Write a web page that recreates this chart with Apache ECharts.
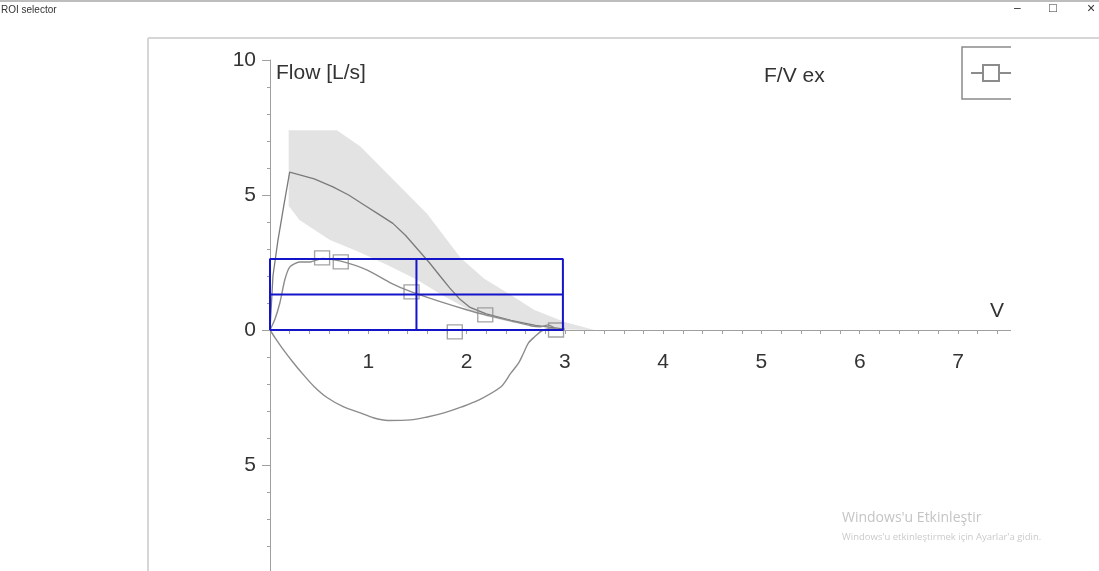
<!DOCTYPE html>
<html>
<head>
<meta charset="utf-8">
<script src="https://cdn.jsdelivr.net/npm/echarts@6/dist/echarts.min.js"></script>
<style>
html,body{margin:0;padding:0;background:#fff;}
#c{width:1099px;height:571px;}
</style>
</head>
<body>
<div id="c"></div>
<script>
// ---- data (volume [L], flow [L/s]) ----
var bandUpper = [[0.19,7.4],[0.68,7.4],[0.92,6.8],[1.26,5.55],[1.6,4.3],[1.94,2.67],[2.18,1.9],[2.45,1.3],[2.69,0.74],[3.0,0.3],[3.3,0.0]];
var bandLower = [[0.19,4.6],[0.3,4.07],[0.61,3.33],[0.9,2.9],[1.2,2.4],[1.5,1.85],[1.75,1.3],[2.0,0.8],[2.2,0.5],[2.5,0.25],[3.0,0.02]];
var meanCurve = [[0,0],[0.03,2.0],[0.08,3.3],[0.14,4.6],[0.2,5.85],[0.45,5.6],[0.64,5.3],[0.8,5.0],[0.95,4.65],[1.1,4.3],[1.25,3.95],[1.38,3.5],[1.5,3.0],[1.62,2.5],[1.73,2.0],[1.83,1.55],[1.93,1.15],[2.03,0.85],[2.2,0.6],[2.45,0.36],[2.7,0.17],[3.0,0.03]];
var expiration = [[0,0],[0.05,0.4],[0.1,1.0],[0.15,1.85],[0.2,2.33],[0.3,2.52],[0.41,2.52],[0.53,2.65],[0.72,2.55],[0.99,2.22],[1.23,1.74],[1.44,1.41],[1.74,1.04],[2.0,0.75],[2.19,0.56],[2.42,0.37],[2.66,0.15],[2.75,0.12],[2.83,0.19],[2.91,0.05]];
var inspiration = [[2.91,0.05],[2.78,0.0],[2.69,-0.26],[2.63,-0.48],[2.58,-0.85],[2.53,-1.22],[2.45,-1.6],[2.35,-2.1],[2.12,-2.6],[1.95,-2.85],[1.77,-3.07],[1.6,-3.22],[1.43,-3.33],[1.2,-3.35],[1.05,-3.25],[0.92,-3.07],[0.75,-2.85],[0.58,-2.5],[0.45,-2.1],[0.35,-1.7],[0.24,-1.22],[0.12,-0.65],[0.05,-0.28],[0,0]];
var markerPoints = [[0.53,2.67],[0.72,2.52],[1.44,1.41],[2.19,0.56],[1.88,-0.07],[2.91,0.0]];
var roiVolume = [0, 1.49, 2.98];
var roiFlow = [0, 1.315, 2.63];
var xTickLabels = ['1','2','3','4','5','6','7'];

var bandPolygon = bandUpper.concat(bandLower.slice().reverse());

var FONT = '"Liberation Sans", Arial, sans-serif';
var chart = echarts.init(document.getElementById('c'), null, {renderer:'canvas'});

var roiColor = '#1414c8';
function roiLine(name, pts){
  return {type:'line', name:name, data:pts, showSymbol:false, symbol:'none', silent:true,
    lineStyle:{color:roiColor, width:2}, z:10, animation:false};
}
var AX = '#a0a0a0';
var LBL = 21;

var option = {
  animation:false,
  backgroundColor:'#fff',
  textStyle:{fontFamily:FONT},
  title:{text:'F/V ex', left:759, top:61, textStyle:{fontSize:LBL, fontWeight:'normal', color:'#333', fontFamily:FONT}},
  legend:{
    left:962, top:47, orient:'horizontal',
    data:[{name:'measured'}],
    formatter:function(){return '';},
    itemWidth:40, itemHeight:20, itemGap:0,
    padding:[16,40,17,8],
    borderColor:'#8a8a8a', borderWidth:1.5,
    selectedMode:false,
    textStyle:{fontSize:1}
  },
  grid:{left:270, right:82, top:60, bottom:-29, containLabel:false, outerBoundsMode:'none'},
  xAxis:[{
    type:'value', min:0, max:7.6, interval:0.2,
    name:'V', nameLocation:'end', nameGap:-20,
    nameTextStyle:{fontSize:LBL, color:'#333', align:'center', verticalAlign:'bottom', padding:[0,0,8,0], fontFamily:FONT},
    axisLine:{onZero:true, lineStyle:{color:AX, width:1}},
    axisTick:{show:true, length:4, lineStyle:{color:AX}},
    axisLabel:{show:false},
    splitLine:{show:false}
  },{
    type:'value', min:0, max:7.6, interval:0.2, position:'bottom', offset:-270,
    axisLine:{show:false, onZero:false}, axisTick:{show:false},
    axisLabel:{interval:0, margin:22, fontSize:LBL, color:'#333', fontFamily:FONT,
      formatter:function(v){var r=Math.round(v); if(Math.abs(v-r)<1e-6 && r>=1 && r<=7) return xTickLabels[r-1]; return '';}},
    splitLine:{show:false}
  }],
  yAxis:[{
    type:'value', min:-10, max:10, interval:1,
    name:'Flow [L/s]', nameLocation:'end', nameGap:-13,
    nameTextStyle:{fontSize:LBL, color:'#333', align:'left', verticalAlign:'middle', padding:[0,0,0,6], fontFamily:FONT},
    axisLine:{show:true, onZero:false, lineStyle:{color:AX, width:1}},
    axisTick:{show:true, length:3, lineStyle:{color:AX}},
    axisLabel:{interval:0, margin:14, fontSize:LBL, color:'#333', fontFamily:FONT,
      formatter:function(v){return (Math.round(v)%5===0) ? String(Math.abs(Math.round(v))) : '';}},
    splitLine:{show:false}
  },{
    type:'value', min:-10, max:10, interval:5, position:'left',
    axisLine:{show:false, onZero:false}, axisTick:{show:true, length:8, lineStyle:{color:AX}},
    axisLabel:{show:false}, splitLine:{show:false}
  }],
  graphic:[
    {type:'rect', shape:{x:0,y:0,width:1099,height:2}, style:{fill:'#bdbdbd'}, z:100},
    {type:'text', left:1, top:5, style:{text:'ROI selector', fontSize:10, fill:'#333', fontFamily:FONT}, z:100},
    {type:'text', left:1014, top:3, style:{text:'\u2013', fontSize:12, fill:'#333', fontFamily:FONT}, z:100},
    {type:'text', left:1049, top:2, style:{text:'\u25A1', fontSize:13, fill:'#333', fontFamily:FONT}, z:100},
    {type:'text', left:1087, top:2, style:{text:'\u00D7', fontSize:14, fill:'#333', fontFamily:FONT}, z:100},
    {type:'rect', shape:{x:1011,y:40,width:88,height:531}, style:{fill:'#ffffff'}, z:90},
    {type:'line', shape:{x1:148,y1:38,x2:1099,y2:38}, style:{stroke:'#d6d6d6', lineWidth:2}, z:100},
    {type:'line', shape:{x1:148,y1:38,x2:148,y2:571}, style:{stroke:'#d6d6d6', lineWidth:2}, z:100},
    {type:'text', left:842, top:511, style:{text:"Windows'u Etkinleştir", fontSize:14, fill:'#c4c4c4', fontFamily:'"Open Sans", sans-serif'}, z:100},
    {type:'text', left:842, top:532, style:{text:"Windows'u etkinleştirmek için Ayarlar'a gidin.", fontSize:9.5, fill:'#cacaca', fontFamily:'"Open Sans", sans-serif'}, z:100}
  ],
  series:[
    {
      type:'custom', name:'band', silent:true, z:1,
      data:bandPolygon,
      encode:{x:0, y:1},
      renderItem:function(params, api){
        if(params.dataIndex !== 0) return null;
        var pts = bandPolygon.map(function(p){return api.coord(p);});
        return {type:'polygon', shape:{points:pts}, style:{fill:'#e3e3e3', stroke:null}};
      }
    },
    {type:'line', name:'mean', data:meanCurve, showSymbol:false, symbol:'none', silent:true, z:3,
      lineStyle:{color:'#7a7a7a', width:1.3}},
    {type:'line', name:'measured', data:expiration, showSymbol:false, symbol:'emptyRect', symbolSize:12, smooth:0.2, silent:true, z:4,
      itemStyle:{color:'#8c8c8c', borderColor:'#8c8c8c'}, lineStyle:{color:'#8c8c8c', width:1.4}},
    {type:'line', name:'inspiration', data:inspiration, showSymbol:false, symbol:'none', smooth:0.3, silent:true, z:4,
      lineStyle:{color:'#8c8c8c', width:1.4}},
    {type:'scatter', name:'markers', data:markerPoints, symbol:'rect', symbolSize:[15,14], silent:true, z:5,
      itemStyle:{color:'rgba(0,0,0,0)', borderColor:'#8c8c8c', borderWidth:1.3}},
    roiLine('roiOuter', [[roiVolume[0],roiFlow[0]],[roiVolume[2],roiFlow[0]],[roiVolume[2],roiFlow[2]],[roiVolume[0],roiFlow[2]],[roiVolume[0],roiFlow[0]]]),
    roiLine('roiMidH', [[roiVolume[0],roiFlow[1]],[roiVolume[2],roiFlow[1]]]),
    roiLine('roiMidV', [[roiVolume[1],roiFlow[0]],[roiVolume[1],roiFlow[2]]])
  ]
};
chart.setOption(option);
</script>
</body>
</html>
